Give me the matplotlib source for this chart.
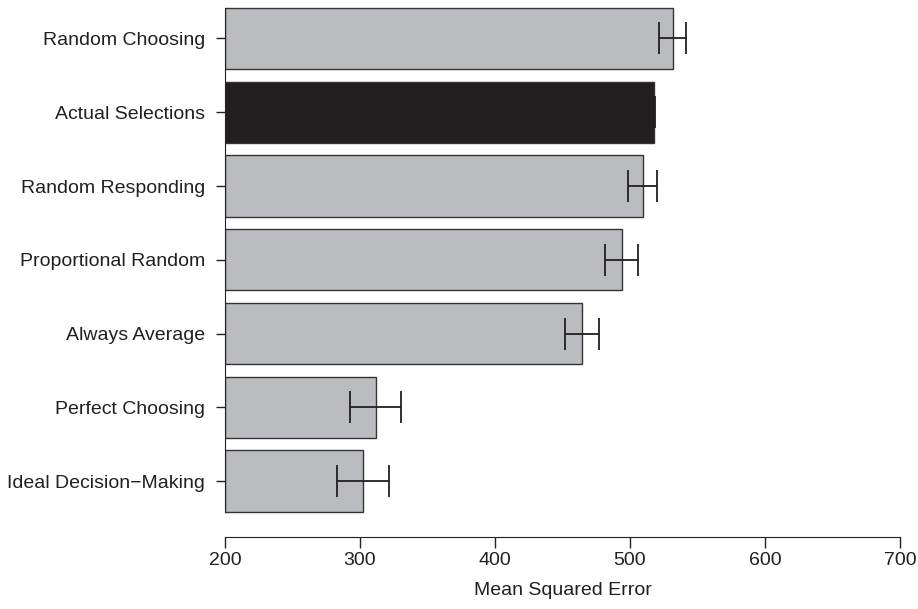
import numpy as np
import matplotlib
matplotlib.use("Agg")
import matplotlib.pyplot as plt

plt.rcParams['font.family'] = ['Liberation Sans', 'DejaVu Sans']

labels = ["Random Choosing", "Actual Selections", "Random Responding",
          "Proportional Random", "Always Average", "Perfect Choosing",
          "Ideal Decision\u2212Making"]
mse = [531.6, 518.0, 509.4, 493.8, 464.7, 311.5, 302.2]
err = [10.2, 0.6, 10.9, 12.3, 12.5, 18.9, 19.3]
bar_colors = ["#bbbcbf", "#231f20", "#bbbcbf", "#bbbcbf", "#bbbcbf", "#bbbcbf", "#bbbcbf"]
xticks = [200, 300, 400, 500, 600, 700]

fig = plt.figure(figsize=(9.18, 6.09), dpi=100)
ax = fig.add_axes([225 / 918, 1 - 537 / 609, 675 / 918, 537 / 609])

ypos = np.arange(len(labels))
ax.barh(ypos, np.array(mse) - 200, left=200, height=0.833, color=bar_colors,
        edgecolor="#333333", linewidth=1.0)
ax.errorbar(mse, ypos, xerr=err, fmt="none", ecolor="#231f20",
            elinewidth=1.3, capsize=11.2, capthick=1.3)

ax.set_xlim(200, 700)
ax.set_ylim(6.759, -0.522)

for s in ["top", "right"]:
    ax.spines[s].set_visible(False)
ax.spines["left"].set_bounds(-0.4165, 6.4165)
ax.spines["left"].set_color("#231f20")
ax.spines["bottom"].set_color("#231f20")

ax.set_xticks(xticks)
ax.set_xticklabels([str(v) for v in xticks])
ax.set_yticks(ypos)
ax.set_yticklabels(labels)
ax.tick_params(axis="x", length=8, width=1, pad=3, labelsize=14, colors="#231f20")
ax.tick_params(axis="y", length=6.5, width=1, pad=8, labelsize=14, colors="#231f20")
ax.set_xlabel("Mean Squared Error", fontsize=14, labelpad=9, color="#231f20")

fig.savefig("out.png", dpi=100)
